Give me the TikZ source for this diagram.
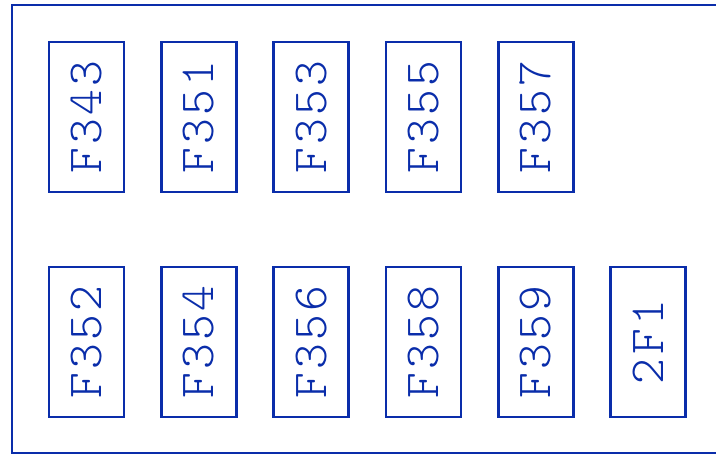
\documentclass[tikz,border=0pt]{standalone}
\usepackage{fontspec}
\newfontfamily\fusefont{lmmonolt10-regular.otf}[LetterSpace=7]
\usepackage{tikz}
\usetikzlibrary{positioning}
\definecolor{fuseblue}{RGB}{10,45,170}
\tikzstyle{fuse}=[draw=fuseblue,line width=2.6pt,minimum width=75pt,minimum height=150pt,inner sep=0pt,text=fuseblue,font=\fusefont\fontsize{49}{49}\selectfont]
\begin{document}
\begin{tikzpicture}[x=1pt,y=-1pt,node distance=34.7pt]
\useasboundingbox (0,0) rectangle (716,455);
\clip (0,0) rectangle (716,455);
\draw[fuseblue,line width=2.6pt] (12,5) rectangle (730,453);
% upper row
\node [fuse] (f343) at (86.5,117) {\rotatebox{90}{F343}};
\node [fuse,right=of f343] (f351) {\rotatebox{90}{F351}};
\node [fuse,right=of f351] (f353) {\rotatebox{90}{F353}};
\node [fuse,right=of f353] (f355) {\rotatebox{90}{F355}};
\node [fuse,right=of f355] (f357) {\rotatebox{90}{F357}};
% lower row
\node [fuse] (f352) at (86.5,342) {\rotatebox{90}{F352}};
\node [fuse,right=of f352] (f354) {\rotatebox{90}{F354}};
\node [fuse,right=of f354] (f356) {\rotatebox{90}{F356}};
\node [fuse,right=of f356] (f358) {\rotatebox{90}{F358}};
\node [fuse,right=of f358] (f359) {\rotatebox{90}{F359}};
\node [fuse,right=of f359] (f2f1) {\rotatebox{90}{2F1}};
\end{tikzpicture}
\end{document}
